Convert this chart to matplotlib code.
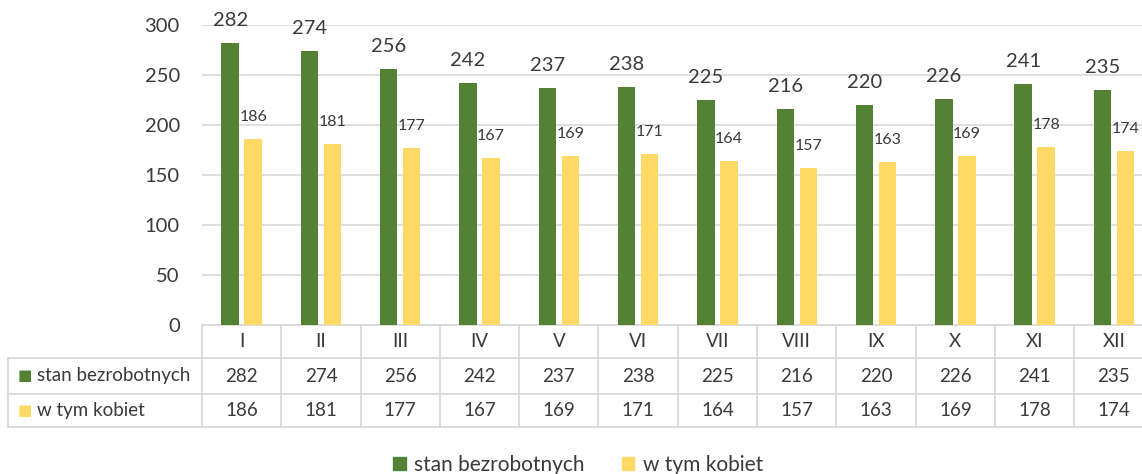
import matplotlib.pyplot as plt
from matplotlib.patches import Patch

months = ["I", "II", "III", "IV", "V", "VI", "VII", "VIII", "IX", "X", "XI", "XII"]
bezrobotni = [282, 274, 256, 242, 237, 238, 225, 216, 220, 226, 241, 235]
kobiety = [186, 181, 177, 167, 169, 171, 164, 157, 163, 169, 178, 174]
series_names = ["stan bezrobotnych", "w tym kobiet"]

green = "#548235"
yellow = "#FFD966"
grid_c = "#d9d9d9"
text_c = "#3a3a3a"

plt.rcParams['font.family'] = ['Lato', 'DejaVu Sans']

W, H = 1142, 474
fig = plt.figure(figsize=(W / 100, H / 100), dpi=100)

# plot area: column width ~79.3 px, 12 columns starting at x=202
col_w = 79.3
x0 = 202
ax = fig.add_axes([x0 / W, (H - 325) / H, 12 * col_w / W, 300 / H])
ax.set_xlim(-0.5, 11.5)
ax.set_ylim(0, 300)

xs = list(range(len(months)))
bw = 0.22
off = 0.145
ax.bar([x - off for x in xs], bezrobotni, bw, color=green, zorder=3)
ax.bar([x + off for x in xs], kobiety, bw, color=yellow, zorder=3)

for x, v in zip(xs, bezrobotni):
    ax.annotate(str(v), (x - off, v), xytext=(0, 16.5), textcoords="offset points",
                ha="center", va="center", fontsize=14.5, color=text_c)
for x, v in zip(xs, kobiety):
    ax.annotate(str(v), (x + off, v), xytext=(0, 16), textcoords="offset points",
                ha="center", va="center", fontsize=11.5, color=text_c)

ax.set_yticks(range(0, 301, 50))
ax.tick_params(axis="y", length=0, pad=16, labelsize=14.5, labelcolor=text_c)
ax.set_xticks([])
ax.grid(axis="y", color=grid_c, linewidth=1.2, zorder=0)
for s in ax.spines.values():
    s.set_visible(False)

# data table below the plot, drawn in data-x / axes-y coordinates
tr = ax.get_xaxis_transform()
px = 1 / 300.0  # one pixel in axes-y units
y_head_top = 0
y_head_bot = -33 * px
y_r1_bot = -69 * px
y_r2_bot = -102 * px
x_left = (8 - x0) / col_w - 0.5
x_right = 11.5

lk = dict(color=grid_c, linewidth=1.3, transform=tr, clip_on=False)
ax.plot([-0.5, x_right], [y_head_top, y_head_top], **lk)
for yy in (y_head_bot, y_r1_bot, y_r2_bot):
    ax.plot([x_left, x_right], [yy, yy], **lk)
ax.plot([x_left, x_left], [y_head_bot, y_r2_bot], **lk)
for i in range(13):
    ax.plot([i - 0.5, i - 0.5], [y_head_top, y_r2_bot], **lk)

tk = dict(transform=tr, clip_on=False, ha="center", va="center", fontsize=13.5, color=text_c)
for i, m in enumerate(months):
    ax.text(i, (y_head_top + y_head_bot) / 2, m, **tk)
    ax.text(i, (y_head_bot + y_r1_bot) / 2, str(bezrobotni[i]), **tk)
    ax.text(i, (y_r1_bot + y_r2_bot) / 2, str(kobiety[i]), **tk)

for name, col, (ya, yb) in zip(series_names, [green, yellow],
                               [(y_head_bot, y_r1_bot), (y_r1_bot, y_r2_bot)]):
    yc = (ya + yb) / 2
    ax.text(x_left + 0.12, yc, "\u25A0", transform=tr, clip_on=False, ha="left", va="center",
            fontsize=11, color=col, family="DejaVu Sans")
    ax.text(x_left + 0.36, yc, name, transform=tr, clip_on=False, ha="left", va="center",
            fontsize=13.5, color=text_c)

handles = [Patch(color=green), Patch(color=yellow)]
fig.legend(handles, series_names, loc="center", bbox_to_anchor=(578 / W, 1 - 465 / H),
           ncol=2, frameon=False, fontsize=15, handlelength=0.6, handleheight=0.6,
           handletextpad=0.4, columnspacing=1.8, labelcolor=text_c)

fig.savefig("out.png", dpi=100)
